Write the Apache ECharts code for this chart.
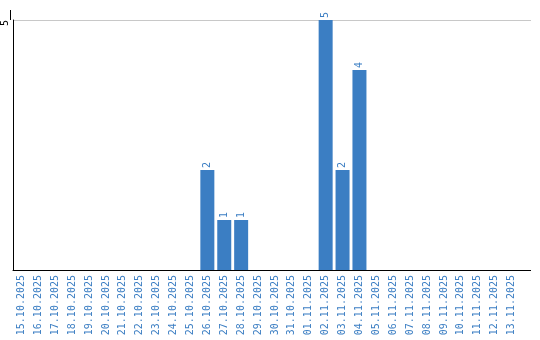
<!DOCTYPE html>
<html>
<head>
<meta charset="utf-8">
<script src="https://cdn.jsdelivr.net/npm/echarts@6/dist/echarts.min.js"></script>
<style>html,body{margin:0;padding:0;background:#fff}#c{width:540px;height:340px}</style>
</head>
<body>
<div id="c"></div>
<script>
const categories = ["15.10.2025","16.10.2025","17.10.2025","18.10.2025","19.10.2025","20.10.2025","21.10.2025","22.10.2025","23.10.2025","24.10.2025","25.10.2025","26.10.2025","27.10.2025","28.10.2025","29.10.2025","30.10.2025","31.10.2025","01.11.2025","02.11.2025","03.11.2025","04.11.2025","05.11.2025","06.11.2025","07.11.2025","08.11.2025","09.11.2025","10.11.2025","11.11.2025","12.11.2025","13.11.2025"];
const values = [0,0,0,0,0,0,0,0,0,0,0,2,1,1,0,0,0,0,5,2,4,0,0,0,0,0,0,0,0,0];
const yMax = 5;
const yInterval = 5;

const blue = '#3b7ec3';
const font = 'DejaVu Sans Mono';
const chart = echarts.init(document.getElementById('c'), null, {renderer: 'canvas'});
chart.setOption({
  animation: false,
  grid: {left: 10, top: 20, width: 510, height: 250, containLabel: false},
  xAxis: {
    type: 'category',
    data: categories,
    axisLine: {lineStyle: {color: '#000', width: 1}},
    axisTick: {show: false},
    axisLabel: {interval: 0, rotate: 90, color: blue, fontSize: 10, fontFamily: font, margin: 5}
  },
  yAxis: {
    type: 'value',
    min: 0, max: yMax, interval: yInterval,
    axisLine: {show: true, lineStyle: {color: '#000', width: 1}},
    axisTick: {show: false},
    axisLabel: {rotate: 90, color: '#000', fontSize: 10, fontFamily: font, margin: 3,
      align: 'right', verticalAlign: 'bottom', padding: [0, 0, 0, 0],
      formatter: v => v === 0 ? '' : String(v)},
    splitLine: {show: true, lineStyle: {color: '#c8c8c8', width: 1}}
  },
  series: [{
    type: 'bar',
    data: values.map(v => v === 0 ? null : v),
    barWidth: 14,
    itemStyle: {color: blue},
    label: {show: true, position: 'top', rotate: 90, align: 'left', verticalAlign: 'middle',
      distance: 2, color: blue, fontSize: 10, fontFamily: font}
  }],
  graphic: [
    {type: 'line', shape: {x1: 10.5, y1: 10, x2: 10.5, y2: 20}, style: {stroke: '#000', lineWidth: 1}},
    {type: 'line', shape: {x1: 520, y1: 270.5, x2: 531, y2: 270.5}, style: {stroke: '#000', lineWidth: 1}},
    {type: 'line', shape: {x1: 520, y1: 20.5, x2: 531, y2: 20.5}, style: {stroke: '#c8c8c8', lineWidth: 1}}
  ]
});
</script>
</body>
</html>
